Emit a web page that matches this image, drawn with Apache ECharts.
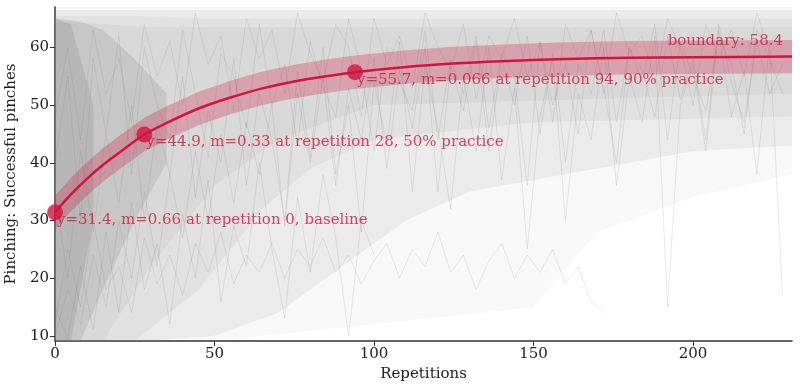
<!DOCTYPE html>
<html>
<head>
<meta charset="utf-8">
<script src="https://cdn.jsdelivr.net/npm/echarts@6/dist/echarts.min.js"></script>
<style>
  html, body { margin: 0; padding: 0; background: #fff; }
  #chart { width: 800px; height: 391px; }
</style>
</head>
<body>
<div id="chart"></div>
<script>
// fitted learning curve
var curveReps = [0, 5, 10, 15, 20, 28, 35, 45, 55, 65, 75, 85, 94, 110, 125, 140, 160, 180, 200, 231];
var curveVals = [31.4, 34.5, 37.2, 39.6, 41.7, 44.9, 46.9, 49.4, 51.3, 52.9, 54.1, 55.0, 55.7, 56.6, 57.2, 57.6, 58.0, 58.2, 58.3, 58.4];
var bandHalf = 2.9;
var boundary = 58.4;

// highlighted points
var annotReps = [0, 28, 94];
var annotVals = [31.4, 44.9, 55.7];
var annotSlopes = ['0.66', '0.33', '0.066'];
var annotTags = ['baseline', '50% practice', '90% practice'];

// tick labels
var xTicks = [0, 50, 100, 150, 200];
var yTicks = [10, 20, 30, 40, 50, 60];

// how densely the grey trajectories cover the plot: nested layers, lower / upper edges
var layerAReps = [0, 50, 100, 150, 170, 200, 231];
var layerALow  = [9.1, 9.1, 12, 15, 28, 34, 38];
var layerAHigh = [67, 67, 67, 67, 67, 67, 67];
var layerBReps = [0, 30, 50, 70, 90, 110, 130, 160, 200, 231];
var layerBLow  = [9.1, 9.1, 10, 14, 22, 30, 35, 38, 42, 43];
var layerBHigh = [66.5, 66.5, 66.5, 66.5, 66.5, 66.5, 66.5, 66.5, 66.5, 66.5];
var layerCReps = [0, 25, 45, 65, 80, 100, 150, 231];
var layerCLow  = [9.1, 9.1, 18, 32, 39, 44, 47, 48];
var layerCHigh = [65.5, 65.5, 65, 65, 65, 65, 65, 65];
var layerDReps = [0, 15, 30, 50, 70, 100, 231];
var layerDLow  = [9.1, 9.1, 22, 36, 44, 50, 52];
var layerDHigh = [64.5, 64, 63.5, 63.5, 63.5, 63.5, 63.5];
var layerEReps = [0, 8, 15, 25, 35];
var layerELow  = [9.1, 9.1, 18, 30, 40];
var layerEHigh = [65, 64.5, 63, 58, 52];
var layerFReps = [0, 5, 12];
var layerFLow  = [9.1, 9.1, 30];
var layerFHigh = [65, 64, 50];

// a few single trajectories for texture
var lineReps = [0, 4, 8, 12, 16, 20, 24, 28, 32, 36, 40, 44, 48, 52, 56, 60, 64, 68, 72, 76, 80, 84, 88, 92, 96, 100,
  104, 108, 112, 116, 120, 124, 128, 132, 136, 140, 144, 148, 152, 156, 160, 164, 168, 172, 176, 180, 184, 188, 192,
  196, 200, 204, 208, 212, 216, 220, 224, 228];
var trajLow = [12, 25, 15, 30, 18, 22, 14, 27, 19, 24, 17, 26, 21, 28, 19, 24, 21, 26, 20, 25, 22, 27, 21, 24, 19, 23,
  26, 20, 25, 22, 28, 21, 24, 18, 23, 26, 20, 24, 21, 25, 19, 22, 16, 14];
var trajSpiky = [35, 20, 42, 28, 45, 33, 50, 30, 47, 38, 55, 34, 49, 40, 58, 36, 52, 44, 30, 56, 41, 60, 38, 50, 28, 54,
  43, 61, 35, 57, 46, 32, 55, 42, 60, 37, 53, 25, 48, 58, 30, 52, 44, 60, 36, 55, 47, 62, 15, 50, 57, 42, 63, 48, 56,
  38, 61, 17];
var trajHigh = [48, 60, 44, 63, 52, 58, 47, 64, 55, 61, 50, 66, 57, 62, 49, 65, 58, 63, 52, 66, 59, 54, 64, 60, 48, 65,
  57, 62, 53, 66, 60, 56, 64, 51, 62, 58, 65, 55, 61, 47, 64, 58, 63, 52, 66, 59, 62, 54, 65, 60, 50, 64, 58, 63, 55,
  66, 59, 62];
var trajRise = [10, 18, 12, 24, 15, 30, 20, 35, 22, 38, 27, 42, 30, 45, 33, 47, 38, 50, 29, 52, 40, 55, 36, 53, 44, 58,
  39, 56, 46, 60, 35, 57, 49, 61, 42, 58, 50, 62, 45, 59, 40, 57, 52, 63, 47, 60, 54, 64, 44, 61, 55, 49, 62, 57, 45,
  63, 58, 52];
var trajShort = [15, 9.5, 22, 11, 28, 14, 33, 18, 26, 12, 31, 20, 37, 16, 29, 22, 40, 25, 13, 34, 21, 38, 27, 10, 30, 24];
var trajMid = [40, 55, 30, 58, 45, 62, 38, 60, 50, 44, 63, 52, 41, 59, 55, 46, 64, 50, 57, 43, 61, 53, 48, 65, 56, 42,
  60, 54, 49, 63, 44, 58, 52, 62, 46, 59, 55, 36, 61, 50, 57, 45, 63, 53, 40, 60, 56, 48, 62, 51, 58, 44, 64, 54, 47,
  61, 52, 57];

var FONT = 'DejaVu Serif';
var RED = '#d2143c';
var xMax = 231;

function pairs(xs, ys) {
  var out = [];
  for (var i = 0; i < ys.length; i++) out.push([xs[i], ys[i]]);
  return out;
}

// filled band between two edges, drawn as one polygon through the axes
function band(xs, lo, hi, color, z) {
  return {
    type: 'custom', silent: true, z: z, clip: true,
    data: [[xs[0], lo[0]]],
    renderItem: function (params, api) {
      var pts = [];
      for (var i = 0; i < xs.length; i++) pts.push(api.coord([xs[i], hi[i]]));
      for (var j = xs.length - 1; j >= 0; j--) pts.push(api.coord([xs[j], lo[j]]));
      return { type: 'polygon', shape: { points: pts }, style: { fill: color } };
    }
  };
}

function traj(ys) {
  return {
    type: 'line', data: pairs(lineReps, ys), symbol: 'none', silent: true, z: 2,
    lineStyle: { color: 'rgba(120,120,120,0.16)', width: 1 }
  };
}

var bandLow = curveVals.map(function (v) { return v - bandHalf; });
var bandHigh = curveVals.map(function (v) { return v + bandHalf; });

var series = [
  band(layerAReps, layerALow, layerAHigh, 'rgba(128,128,128,0.06)', 1),
  band(layerBReps, layerBLow, layerBHigh, 'rgba(128,128,128,0.10)', 1),
  band(layerCReps, layerCLow, layerCHigh, 'rgba(128,128,128,0.09)', 1),
  band(layerDReps, layerDLow, layerDHigh, 'rgba(128,128,128,0.08)', 1),
  band(layerEReps, layerELow, layerEHigh, 'rgba(128,128,128,0.20)', 1),
  band(layerFReps, layerFLow, layerFHigh, 'rgba(128,128,128,0.22)', 1),
  traj(trajLow), traj(trajSpiky), traj(trajHigh), traj(trajRise), traj(trajShort), traj(trajMid),
  band(curveReps, bandLow, bandHigh, 'rgba(210,20,60,0.28)', 5)
];

series.push({
  type: 'line', name: 'fit', data: pairs(curveReps, curveVals), smooth: 0.3,
  symbol: 'none', lineStyle: { color: RED, width: 2.5 }, z: 6, silent: true
});

series.push({
  type: 'scatter', name: 'points', z: 7, silent: true,
  symbolSize: 16, itemStyle: { color: RED },
  data: annotReps.map(function (r, i) {
    return {
      value: [r, annotVals[i]],
      label: {
        show: true,
        formatter: 'y=' + annotVals[i] + ', m=' + annotSlopes[i] + ' at repetition ' + r + ', ' + annotTags[i]
      }
    };
  }),
  label: {
    position: [10, 8], align: 'left', verticalAlign: 'top',
    color: RED, fontFamily: FONT, fontSize: 15
  }
});

series.push({
  type: 'scatter', name: 'boundaryLabel', z: 7, silent: true,
  symbolSize: 0, data: [[xMax, boundary]],
  label: {
    show: true, formatter: 'boundary: ' + boundary,
    position: [-9, -8], align: 'right', verticalAlign: 'bottom',
    color: RED, fontFamily: FONT, fontSize: 15
  }
});

var chart = echarts.init(document.getElementById('chart'));
chart.setOption({
  animation: false,
  backgroundColor: '#fff',
  grid: { left: 55, right: 8, top: 7, bottom: 50, containLabel: false, outerBoundsMode: 'none' },
  xAxis: {
    type: 'value', min: 0, max: xMax,
    name: 'Repetitions', nameLocation: 'middle', nameGap: 26,
    nameTextStyle: { fontFamily: FONT, fontSize: 15, color: '#222' },
    axisLine: { lineStyle: { color: '#333', width: 1.5 } },
    axisTick: { customValues: xTicks, lineStyle: { color: '#333' }, length: 5 },
    axisLabel: { customValues: xTicks, fontFamily: FONT, fontSize: 15, color: '#222', margin: 6 },
    splitLine: { show: false }
  },
  yAxis: {
    type: 'value', min: 9.1, max: 67,
    name: 'Pinching: Successful pinches', nameLocation: 'middle', nameGap: 28,
    nameTextStyle: { fontFamily: FONT, fontSize: 15, color: '#222' },
    axisLine: { show: true, lineStyle: { color: '#333', width: 1.5 } },
    axisTick: { show: true, customValues: yTicks, lineStyle: { color: '#333' }, length: 5 },
    axisLabel: { customValues: yTicks, fontFamily: FONT, fontSize: 15, color: '#222', margin: 6 },
    splitLine: { show: false }
  },
  series: series
});
</script>
</body>
</html>
